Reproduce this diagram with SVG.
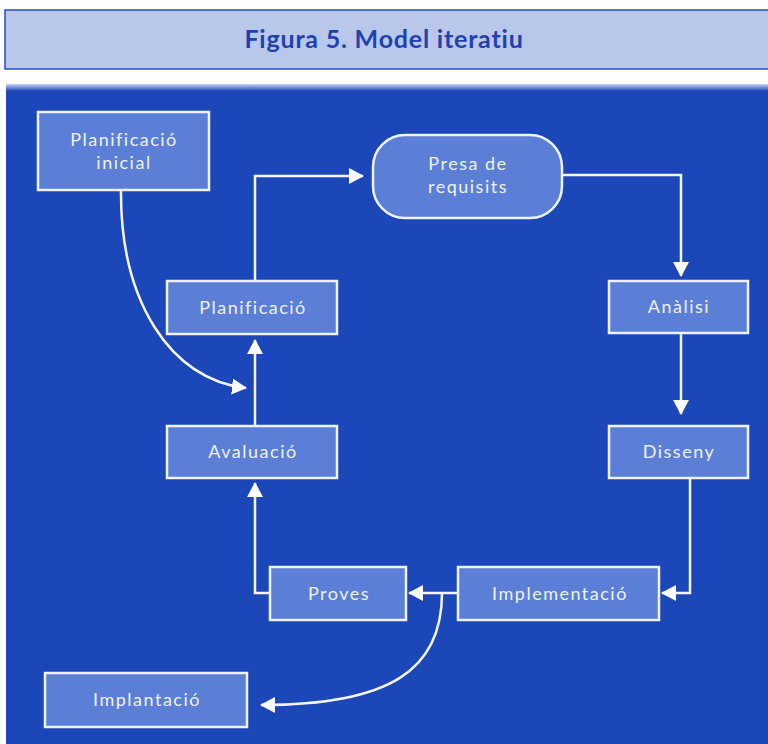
<svg xmlns="http://www.w3.org/2000/svg" width="768" height="744" viewBox="0 0 768 744">
<defs>
<style>
.node rect{fill:#5b7fd6;stroke:#eef2fc;stroke-width:2.5}
.node text{font-family:Lato,"Liberation Sans",sans-serif;font-size:18px;letter-spacing:1.5px;fill:#eef2fc;text-anchor:middle}
.conn path{fill:none;stroke:#f4f6fc;stroke-width:2.5}
</style>
<marker id="ah" markerUnits="userSpaceOnUse" markerWidth="18" markerHeight="18" refX="14" refY="8" orient="auto">
<path d="M0,0 L15,8 L0,16 Z" fill="#ffffff"/>
</marker>
<linearGradient id="top" x1="0" y1="0" x2="0" y2="1">
<stop offset="0" stop-color="#c9d5f2"/>
<stop offset="1" stop-color="#1b47b9"/>
</linearGradient>
</defs>
<rect width="768" height="744" fill="#ffffff"/>
<g id="title">
<rect x="5" y="10" width="770" height="59" fill="#b9c7ea" stroke="#2350c0" stroke-width="1.5"/>
<text x="384" y="48" font-family="Lato,'Liberation Sans',sans-serif" font-size="25" font-weight="bold" letter-spacing="0.8" fill="#1f42b0" text-anchor="middle">Figura 5. Model iteratiu</text>
</g>
<rect x="6" y="84" width="762" height="660" fill="#1b47b9"/>
<rect x="6" y="84" width="762" height="7" fill="url(#top)"/>
<g class="conn" id="connectors">
<path d="M255,281 V176 H363" marker-end="url(#ah)"/>
<path d="M562,175 H681 V276" marker-end="url(#ah)"/>
<path d="M681,333 V414" marker-end="url(#ah)"/>
<path d="M690,478 V593 H662" marker-end="url(#ah)"/>
<path d="M458,593 H409" marker-end="url(#ah)"/>
<path d="M270,593 H255 V483" marker-end="url(#ah)"/>
<path d="M255,426 V340" marker-end="url(#ah)"/>
<path d="M121,190 C120,300 170,380 246,388" marker-end="url(#ah)"/>
<path d="M442,593 C442,670 390,705 261,705" marker-end="url(#ah)"/>
</g>
<g class="node" id="planificacio-inicial">
<rect x="38" y="112" width="171" height="78"/>
<text x="124" y="146">Planificació</text>
<text x="124" y="169">inicial</text>
</g>
<g class="node" id="presa-requisits">
<rect x="373" y="135" width="189" height="83" rx="32"/>
<text x="468" y="170">Presa de</text>
<text x="468" y="193">requisits</text>
</g>
<g class="node" id="planificacio">
<rect x="167" y="281" width="170" height="53"/>
<text x="253" y="314">Planificació</text>
</g>
<g class="node" id="analisi">
<rect x="609" y="281" width="139" height="52"/>
<text x="679" y="313">Anàlisi</text>
</g>
<g class="node" id="avaluacio">
<rect x="167" y="426" width="170" height="52"/>
<text x="253" y="458">Avaluació</text>
</g>
<g class="node" id="disseny">
<rect x="609" y="426" width="139" height="52"/>
<text x="679" y="458">Disseny</text>
</g>
<g class="node" id="proves">
<rect x="270" y="567" width="136" height="53"/>
<text x="339" y="600">Proves</text>
</g>
<g class="node" id="implementacio">
<rect x="458" y="567" width="201" height="53"/>
<text x="560" y="600">Implementació</text>
</g>
<g class="node" id="implantacio">
<rect x="45" y="673" width="202" height="54"/>
<text x="147" y="706">Implantació</text>
</g>
</svg>
